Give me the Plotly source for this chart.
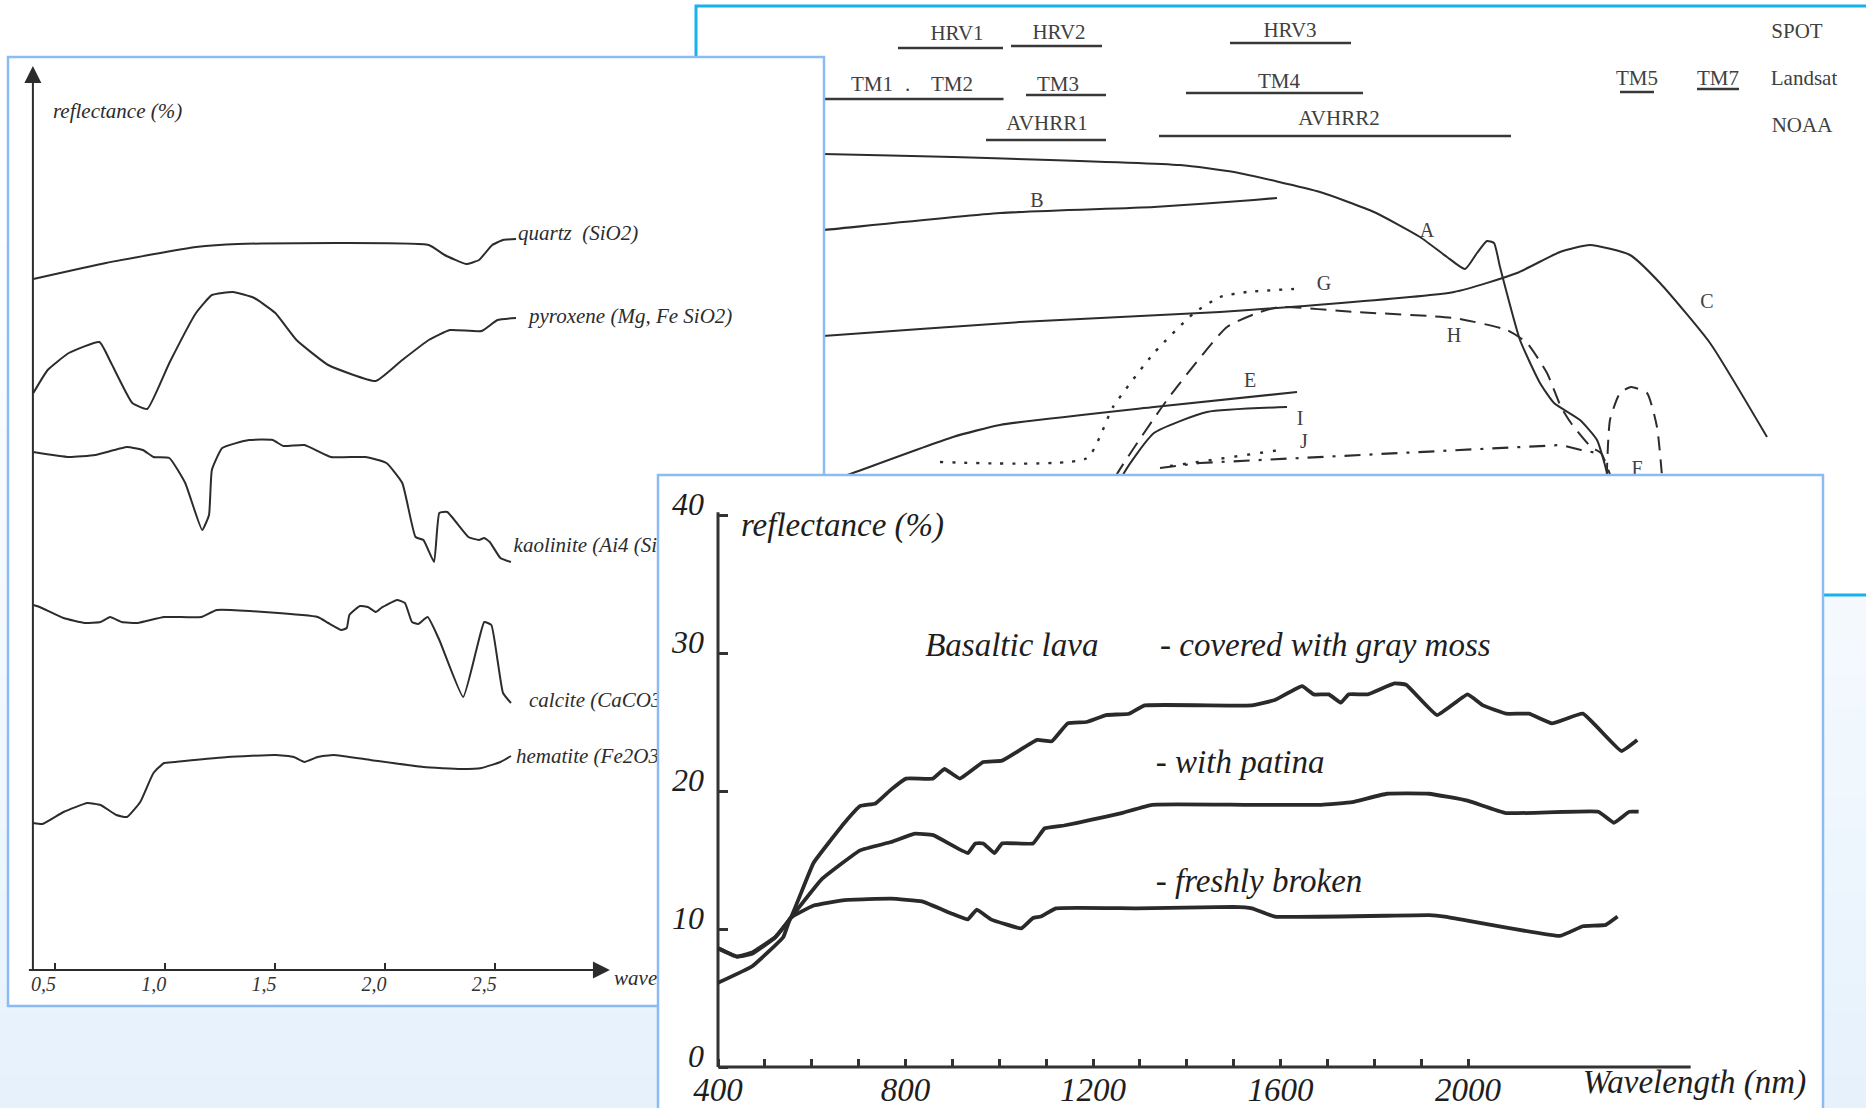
import plotly.graph_objects as go

W, H = 1866, 1108
INK = "#2c2c2c"
SERIF = "Liberation Serif"

# ===================== Panel 1 (top right): sensor bands + spectral curves =====================
# relative units of the scanned diagram: x along wavelength, y reflectance
band_labels = ["HRV1", "HRV2", "HRV3", "SPOT",
               "TM1", ".", "TM2", "TM3", "TM4", "TM5", "TM7", "Landsat",
               "AVHRR1", "AVHRR2", "NOAA"]
band_label_x = [26.1, 36.3, 59.4, 110.1, 17.6, 21.15, 25.6, 36.2, 58.3, 94.1, 102.2, 110.8, 35.1, 64.3, 110.6]
band_label_y = [56.0, 56.1, 56.3, 56.2, 50.9, 50.9, 50.9, 50.9, 51.2, 51.5, 51.5, 51.5, 47.0, 47.5, 46.8]

band_start = [20.2, 31.5, 53.4, 10.0, 33.0, 49.0, 92.4, 100.1, 29.0, 46.3]
band_end = [30.7, 40.6, 65.5, 30.75, 41.0, 66.7, 95.8, 104.3, 41.0, 81.5]
band_level = [54.7, 54.9, 55.2, 49.6, 50.0, 50.2, 50.3, 50.6, 45.5, 45.9]

curve_A_x = [10.4, 12.7, 25.7, 48.4, 53.8, 62.4, 67.8, 72.4, 75.1, 76.9, 78.1, 79.1, 79.8, 80.4, 82.4, 84.4, 85.8, 88.4, 90.1, 91.1, 91.6]
curve_A_y = [44.2, 44.1, 43.8, 43.0, 42.3, 40.3, 38.3, 35.8, 33.8, 32.6, 34.2, 35.4, 35.2, 32.8, 25.5, 21.2, 19.2, 17.5, 15.5, 12.2, 9.5]
curve_B_x = [10.4, 12.7, 30.4, 45.8, 55.8, 58.1]
curve_B_y = [36.3, 36.5, 38.2, 38.8, 39.5, 39.7]
curve_C_x = [10.4, 12.7, 32.4, 52.4, 75.8, 82.1, 86.4, 89.4, 93.4, 96.4, 101.4, 107.1]
curve_C_y = [25.8, 25.9, 27.3, 28.3, 30.3, 32.2, 34.3, 35.0, 34.0, 31.2, 25.2, 15.8]
curve_E_x = [10.4, 15.7, 25.7, 30.4, 45.8, 60.1]
curve_E_y = [10.3, 12.2, 15.8, 17.0, 18.8, 20.3]
curve_G_x = [24.4, 39.1, 41.7, 45.8, 49.8, 52.4, 55.1, 59.8]
curve_G_y = [13.3, 13.7, 18.8, 24.2, 28.2, 29.8, 30.3, 30.6]
curve_H_x = [40.9, 42.1, 47.1, 53.1, 56.4, 58.4, 65.8, 75.8, 81.1, 83.1, 85.1, 86.5, 87.5, 89.5, 90.5, 91.6]
curve_H_y = [9.5, 12.1, 19.5, 26.8, 28.3, 28.8, 28.3, 27.7, 26.5, 25.2, 22.2, 18.8, 17.2, 14.8, 14.2, 11.5]
curve_F_x = [91.0, 91.4, 92.4, 93.5, 95.1, 96.1, 96.8]
curve_F_y = [9.5, 17.5, 20.2, 20.8, 20.2, 16.8, 9.5]
curve_I_x = [41.4, 42.8, 45.8, 51.1, 59.1]
curve_I_y = [8.5, 12.2, 16.2, 18.3, 18.8]
curve_J_x = [46.4, 50.4, 86.5, 88.5, 90.1]
curve_J_y = [12.7, 13.2, 15.0, 14.5, 14.2]
curve_Jdot_x = [47.4, 58.4]
curve_Jdot_y = [12.9, 14.5]

curve_labels = ["A", "B", "C", "E", "G", "H", "I", "J", "F"]
curve_label_x = [73.1, 34.1, 101.1, 55.4, 62.8, 75.8, 60.4, 60.8, 94.1]
curve_label_y = [36.3, 39.3, 29.2, 21.3, 31.0, 25.8, 17.5, 15.2, 12.5]

# ===================== Panel 2 (left): mineral spectra, wavelength in micrometres =====================
mineral_ticks = [0.5, 1.0, 1.5, 2.0, 2.5]
mineral_tick_text = ["0,5", "1,0", "1,5", "2,0", "2,5"]

quartz_w = [0.404, 0.733, 1.142, 1.333, 2.198, 2.270, 2.367, 2.426, 2.486, 2.535, 2.594]
quartz_r = [69.1, 70.7, 72.3, 72.6, 72.5, 71.5, 70.6, 71.0, 72.5, 73.0, 73.1]
pyroxene_w = [0.404, 0.469, 0.565, 0.704, 0.757, 0.853, 0.921, 1.021, 1.142, 1.214, 1.310, 1.406, 1.502,
              1.598, 1.742, 1.958, 2.078, 2.198, 2.294, 2.438, 2.510, 2.594]
pyroxene_r = [57.7, 60.0, 61.7, 62.8, 60.7, 56.7, 56.1, 60.7, 65.7, 67.5, 67.8, 67.2, 65.7,
              63.0, 60.5, 58.9, 61.0, 63.0, 64.0, 63.9, 65.0, 65.2]
kaolinite_w = [0.404, 0.565, 0.685, 0.829, 0.901, 0.949, 1.021, 1.093, 1.170, 1.201, 1.214, 1.261, 1.382,
               1.490, 1.538, 1.634, 1.754, 1.910, 2.006, 2.078, 2.138, 2.174, 2.222, 2.246, 2.282, 2.378,
               2.426, 2.450, 2.475, 2.523, 2.571]
kaolinite_r = [51.8, 51.3, 51.5, 52.3, 52.0, 51.3, 51.2, 48.7, 44.0, 45.5, 50.0, 52.2, 53.0,
               53.0, 52.4, 52.5, 51.3, 51.3, 50.7, 48.7, 43.3, 43.0, 40.8, 45.7, 45.8, 43.3,
               43.0, 43.2, 42.8, 41.2, 40.8]
calcite_w = [0.404, 0.433, 0.541, 0.637, 0.709, 0.752, 0.805, 0.877, 0.997, 1.166, 1.237, 1.694, 1.742,
             1.802, 1.826, 1.838, 1.886, 1.922, 1.958, 1.982, 2.054, 2.090, 2.122, 2.150, 2.193, 2.246,
             2.354, 2.414, 2.450, 2.482, 2.510, 2.535, 2.571]
calcite_r = [36.5, 36.3, 35.2, 34.7, 34.8, 35.3, 34.8, 34.7, 35.3, 35.3, 36.0, 35.3, 34.7,
             34.0, 34.2, 35.5, 36.4, 36.3, 35.8, 36.2, 37.0, 36.7, 34.8, 34.6, 35.3, 33.0,
             27.3, 32.0, 34.8, 34.5, 31.0, 27.7, 26.7]
hematite_w = [0.404, 0.445, 0.541, 0.649, 0.709, 0.781, 0.829, 0.889, 0.949, 0.997, 1.045, 1.285, 1.502,
              1.586, 1.634, 1.694, 1.766, 1.934, 2.174, 2.343, 2.438, 2.523, 2.571]
hematite_r = [14.7, 14.6, 15.8, 16.7, 16.5, 15.5, 15.3, 16.8, 19.7, 20.7, 20.8, 21.3, 21.5,
              21.3, 20.8, 21.3, 21.5, 21.0, 20.3, 20.1, 20.2, 20.8, 21.4]

mineral_names = ["quartz  (SiO2)", "pyroxene (Mg, Fe SiO2)", "kaolinite (Ai4 (Si4O10)(OH)8)",
                 "calcite (CaCO3)", "hematite (Fe2O3)"]
mineral_label_w = [2.603, 2.653, 2.583, 2.653, 2.594]
mineral_label_r = [73.5, 65.2, 42.3, 26.8, 21.2]

# ===================== Panel 3 (bottom right): basaltic lava =====================
basalt_tick_nm = list(range(400, 2001, 100))
basalt_tick_text = ["400", "", "", "", "800", "", "", "", "1200", "", "", "", "1600", "", "", "", "2000"]
basalt_tick_r = [0, 10, 20, 30, 40]

moss_nm = [400, 440, 473, 522, 555, 604, 670, 703, 736, 769, 801, 859, 883, 916, 966, 1006, 1081, 1112,
           1146, 1186, 1228, 1277, 1310, 1539, 1588, 1646, 1671, 1703, 1729, 1745, 1786, 1843, 1868,
           1934, 1999, 2032, 2081, 2130, 2179, 2245, 2327, 2361]
moss_r = [8.6, 8.0, 8.3, 9.4, 10.8, 14.8, 17.7, 18.9, 19.1, 20.1, 20.9, 20.9, 21.6, 20.9, 22.1, 22.2, 23.7, 23.6,
          24.9, 25.0, 25.5, 25.6, 26.2, 26.2, 26.6, 27.6, 27.0, 27.0, 26.4, 27.0, 27.0, 27.8, 27.7,
          25.5, 27.0, 26.2, 25.6, 25.6, 24.9, 25.6, 22.9, 23.7]
patina_nm = [400, 440, 473, 522, 555, 621, 703, 769, 818, 859, 933, 949, 966, 990, 1006, 1072, 1097, 1138,
             1195, 1261, 1326, 1523, 1687, 1753, 1827, 1917, 1999, 2081, 2278, 2311, 2344, 2364]
patina_r = [8.6, 8.0, 8.2, 9.4, 10.8, 13.6, 15.7, 16.3, 16.9, 16.8, 15.5, 16.2, 16.2, 15.5, 16.2, 16.2, 17.3, 17.5,
            17.9, 18.4, 19.0, 19.0, 19.0, 19.2, 19.8, 19.8, 19.3, 18.4, 18.5, 17.7, 18.5, 18.5]
fresh_nm = [400, 473, 539, 555, 604, 670, 769, 835, 900, 933, 952, 982, 1047, 1072, 1089, 1121, 1293,
            1499, 1539, 1588, 1917, 1950, 2196, 2245, 2294, 2319]
fresh_r = [6.1, 7.3, 9.4, 10.8, 11.7, 12.1, 12.2, 12.0, 11.1, 10.7, 11.4, 10.7, 10.05, 10.8, 10.9, 11.5, 11.5,
           11.6, 11.5, 10.9, 11.0, 10.9, 9.5, 10.2, 10.3, 10.9]

basalt_texts = ["reflectance (%)", "Basaltic lava", "- covered with gray moss", "- with patina",
                "- freshly broken", "Wavelength (nm)"]
basalt_text_nm = [449, 842, 1343, 1334, 1334, 2245]
basalt_text_r = [39.1, 30.4, 30.4, 21.9, 13.3, -1.3]

# ---------------------------------------------------------------------------------------------
fig = go.Figure()


def lines(x, y, xa, ya, width, dash="solid", shape="spline", smoothing=0.5, color=INK):
    fig.add_trace(go.Scatter(x=x, y=y, xaxis=xa, yaxis=ya, mode="lines",
                             line=dict(color=color, width=width, dash=dash, shape=shape, smoothing=smoothing),
                             hoverinfo="skip", showlegend=False))


def texts(x, y, t, xa, ya, size, pos="middle center", style="normal", color=INK):
    fig.add_trace(go.Scatter(x=x, y=y, text=t, mode="text", xaxis=xa, yaxis=ya, textposition=pos,
                             textfont=dict(family=SERIF, size=size, color=color, style=style),
                             hoverinfo="skip", showlegend=False))


# ---- panel 1
bx, by = [], []
for s, e, lv in zip(band_start, band_end, band_level):
    bx += [s, e, None]
    by += [lv, lv, None]
lines(bx, by, "x", "y", 2.6, shape="linear", color="#383838")
texts(band_label_x, band_label_y, band_labels, "x", "y", 21, color="#404040")
lines(curve_A_x, curve_A_y, "x", "y", 2.0)
lines(curve_B_x, curve_B_y, "x", "y", 2.2)
lines(curve_C_x, curve_C_y, "x", "y", 2.0)
lines(curve_E_x, curve_E_y, "x", "y", 2.2)
lines(curve_I_x, curve_I_y, "x", "y", 2.0)
lines(curve_G_x, curve_G_y, "x", "y", 2.4, dash="3px,9px")
lines(curve_H_x, curve_H_y, "x", "y", 2.0, dash="16px,9px")
lines(curve_F_x, curve_F_y, "x", "y", 2.0, dash="14px,9px")
lines(curve_J_x, curve_J_y, "x", "y", 2.2, dash="16px,9px,3px,9px", shape="linear")
lines(curve_Jdot_x, curve_Jdot_y, "x", "y", 2.4, dash="3px,10px", shape="linear")
texts(curve_label_x, curve_label_y, curve_labels, "x", "y", 20, color="#404040")

# ---- panel 2
lines([0.402, 0.402, None, 0.384, 3.0], [89.0, 0, None, 0, 0], "x2", "y2", 2.0, shape="linear")
fig.add_trace(go.Scatter(x=[0.402, 3.02], y=[90.4, 0], xaxis="x2", yaxis="y2", mode="markers",
                         marker=dict(symbol=["arrow-up", "arrow-right"], size=17, color=INK),
                         hoverinfo="skip", showlegend=False))
for w, r in [(quartz_w, quartz_r), (pyroxene_w, pyroxene_r), (kaolinite_w, kaolinite_r),
             (calcite_w, calcite_r), (hematite_w, hematite_r)]:
    lines(w, r, "x2", "y2", 2.0, smoothing=0.4)
texts(mineral_label_w, mineral_label_r, mineral_names, "x2", "y2", 21, pos="middle right", style="italic")
texts([0.493, 3.039], [85.7, -1.0], ["reflectance (%)", "wavelength (µm)"], "x2", "y2", 21,
      pos="middle right", style="italic")

# ---- panel 3
lines([400, 400, None, 400, 2475], [40.2, 0, None, 0, 0], "x3", "y3", 3.0, shape="linear", color="#333333")
lines(moss_nm, moss_r, "x3", "y3", 3.8, smoothing=0.3, color="#2a2a2a")
lines(patina_nm, patina_r, "x3", "y3", 3.8, smoothing=0.3, color="#2a2a2a")
lines(fresh_nm, fresh_r, "x3", "y3", 3.8, smoothing=0.3, color="#2a2a2a")
texts(basalt_text_nm, basalt_text_r, basalt_texts, "x3", "y3", 33, pos="middle right", style="italic",
      color="#1e1e1e")

# ---- background gradient and panel sheets
shapes = []
n = 36
for i in range(n):
    t0, t1 = i / n, (i + 1) / n
    k = ((t0 + t1) / 2) ** 1.5
    c = [round(255 + (e - 255) * k) for e in (229, 241, 252)]
    shapes.append(dict(type="rect", xref="paper", yref="paper", x0=0, x1=1, y0=1 - t1, y1=1 - t0 + 0.002,
                       fillcolor=f"rgb({c[0]},{c[1]},{c[2]})", line=dict(width=0), layer="below"))
shapes.append(dict(type="rect", xref="x", yref="y", x0=0, x1=130, y0=0, y1=58.9,
                   fillcolor="white", line=dict(color="#17b2ec", width=3), layer="below"))
shapes.append(dict(type="rect", xref="x2", yref="y2", x0=0.289, x1=3.9914, y0=-3.6, y1=91.3,
                   fillcolor="white", line=dict(color="#8cbaf3", width=2.5), layer="below"))
shapes.append(dict(type="rect", xref="x3", yref="y3", x0=272, x1=2757.3, y0=-6, y1=42.9,
                   fillcolor="white", line=dict(color="#8cbaf3", width=2.5), layer="below"))

hidden = dict(visible=False, showgrid=False, zeroline=False, fixedrange=True)
fig.update_layout(
    width=W, height=H, margin=dict(l=0, r=0, t=0, b=0),
    paper_bgcolor="white", plot_bgcolor="rgba(0,0,0,0)", showlegend=False,
    font=dict(family=SERIF, color=INK),
    shapes=shapes,
    xaxis=dict(domain=[693 / W, 1.0], range=[-0.3, 117.0], **hidden),
    yaxis=dict(domain=[1 - 598 / H, 1 - 3 / H], range=[-0.3, 59.2], **hidden),
    xaxis2=dict(domain=[5 / W, 827 / W], range=[0.2754, 4.005], anchor="free", position=1 - 970 / H,
                showline=False, showgrid=False, zeroline=False, fixedrange=True,
                tickmode="array", tickvals=mineral_ticks, ticktext=mineral_tick_text,
                ticks="inside", ticklen=7, tickwidth=2, tickcolor=INK, ticklabelshift=-11,
                tickfont=dict(family=SERIF, size=20, style="italic", color="#333333")),
    yaxis2=dict(domain=[1 - 1009 / H, 1 - 54 / H], range=[-3.9, 91.6], **hidden),
    xaxis3=dict(domain=[655 / W, 1826 / W], range=[265.6, 2763.7], anchor="free", position=1 - 1067 / H,
                showline=False, showgrid=False, zeroline=False, fixedrange=True,
                tickmode="array", tickvals=basalt_tick_nm, ticktext=basalt_tick_text,
                ticks="inside", ticklen=8, tickwidth=2.5, tickcolor="#333333",
                tickfont=dict(family=SERIF, size=33, style="italic", color="#1e1e1e")),
    yaxis3=dict(domain=[0, 1 - 472 / H], range=[-2.971, 43.116], anchor="free", position=718 / W,
                showline=False, showgrid=False, zeroline=False, fixedrange=True,
                tickmode="array", tickvals=basalt_tick_r, ticktext=[str(v) for v in basalt_tick_r],
                ticks="inside", ticklen=9, tickwidth=2.5, tickcolor="#333333",
                ticklabelshift=-11, ticklabelstandoff=14,
                tickfont=dict(family=SERIF, size=32, style="italic", color="#1e1e1e")),
)

fig.write_html("out.html")
